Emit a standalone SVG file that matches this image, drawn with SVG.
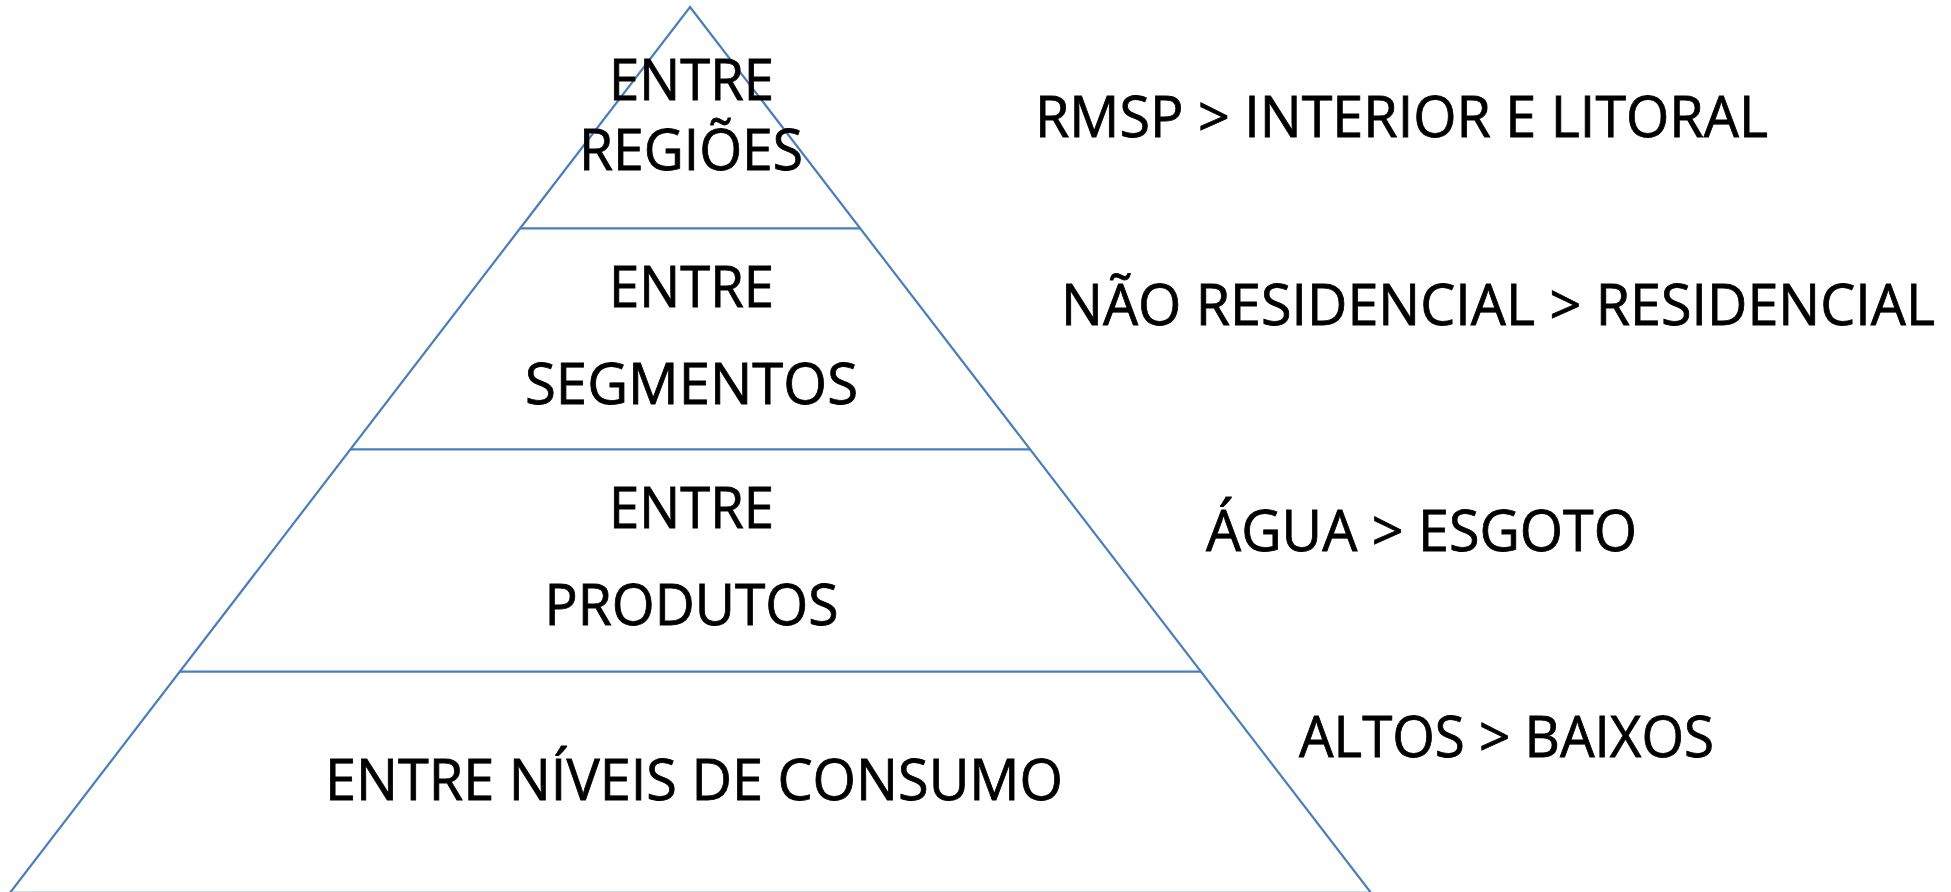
<svg xmlns="http://www.w3.org/2000/svg" width="1951" height="892" viewBox="0 0 1951 892">
<style>
.edge{stroke:#4A7EBB;stroke-width:2.2;fill:none}
.t{font-family:"Open Sans","Liberation Sans",sans-serif;font-size:56px;fill:#000;stroke:#000;stroke-width:0.8}
</style>
<rect width="1951" height="892" fill="#fff"/>
<g id="pyramid">
<polygon class="edge" points="690,7 1371,892.8 10,892.8"/>
</g>
<g id="connectors">
<line class="edge" x1="520" y1="228.3" x2="860.4" y2="228.3"/>
<line class="edge" x1="350.3" y1="449.3" x2="1030.6" y2="449.3"/>
<line class="edge" x1="179.5" y1="671.7" x2="1201.8" y2="671.7"/>
</g>
<g id="level1">
<text class="t" x="609" y="100" textLength="165" lengthAdjust="spacingAndGlyphs">ENTRE</text>
<text class="t" x="579" y="170" textLength="224" lengthAdjust="spacingAndGlyphs">REGIÕES</text>
</g>
<g id="level2">
<text class="t" x="609" y="306.5" textLength="165" lengthAdjust="spacingAndGlyphs">ENTRE</text>
<text class="t" x="525" y="403.5" textLength="333" lengthAdjust="spacingAndGlyphs">SEGMENTOS</text>
</g>
<g id="level3">
<text class="t" x="609" y="528" textLength="165" lengthAdjust="spacingAndGlyphs">ENTRE</text>
<text class="t" x="544.5" y="625" textLength="294" lengthAdjust="spacingAndGlyphs">PRODUTOS</text>
</g>
<g id="level4">
<text class="t" x="325" y="800" textLength="738" lengthAdjust="spacingAndGlyphs">ENTRE NÍVEIS DE CONSUMO</text>
</g>
<g id="label1">
<text class="t" x="1035" y="137" textLength="733" lengthAdjust="spacingAndGlyphs">RMSP &gt; INTERIOR E LITORAL</text>
</g>
<g id="label2">
<text class="t" x="1061" y="325" textLength="874" lengthAdjust="spacingAndGlyphs">NÃO RESIDENCIAL &gt; RESIDENCIAL</text>
</g>
<g id="label3">
<text class="t" x="1206" y="550.5" textLength="431" lengthAdjust="spacingAndGlyphs">ÁGUA &gt; ESGOTO</text>
</g>
<g id="label4">
<text class="t" x="1299" y="757" textLength="415" lengthAdjust="spacingAndGlyphs">ALTOS &gt; BAIXOS</text>
</g>
</svg>
